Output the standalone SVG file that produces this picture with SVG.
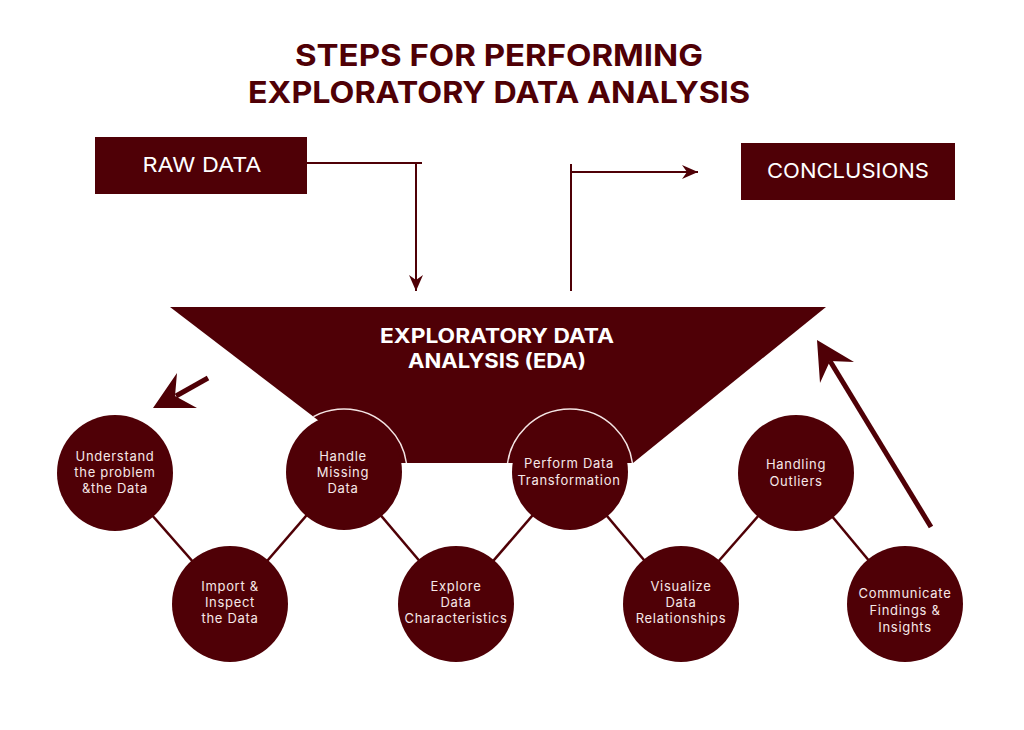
<svg xmlns="http://www.w3.org/2000/svg" width="1024" height="730" viewBox="0 0 1024 730">
  <defs>
    <style>
      .title{font-family:Inter,"Open Sans","DejaVu Sans",sans-serif;font-weight:700;font-size:30px;fill:#4f0006;text-anchor:middle}
      .box{fill:#4f0006}
      .boxlbl{font-family:Inter,"Open Sans","DejaVu Sans",sans-serif;font-size:20px;fill:#ffffff;text-anchor:middle}
      .eda{font-family:Inter,"Open Sans","DejaVu Sans",sans-serif;font-weight:700;font-size:19.5px;fill:#ffffff;text-anchor:middle}
      .node{fill:#4f0006}
      .lbl{font-family:Inter,"Open Sans","DejaVu Sans",sans-serif;font-size:13px;letter-spacing:0.7px;fill:#f6e8e8;text-anchor:middle}
      .conn{stroke:#4f0006;stroke-width:2.5;fill:none}
      .flow{stroke:#4f0006;stroke-width:2;fill:none}
      .big{stroke:#4f0006;stroke-width:5;fill:none}
      .ring{fill:none;stroke:#f3e3e3;stroke-width:1.5}
    </style>
    <marker id="ah" viewBox="0 0 16 14" refX="16" refY="7" markerWidth="16" markerHeight="14" markerUnits="userSpaceOnUse" orient="auto">
      <path d="M0,0 L16,7 L0,14 L5,7 z" fill="#4f0006"/>
    </marker>
    <clipPath id="trap">
      <polygon points="170,307 826,307 633,463 374,463"/>
    </clipPath>
  </defs>
  <rect width="1024" height="730" fill="#ffffff"/>

  <g id="title">
    <text class="title" x="499" y="66" textLength="408" lengthAdjust="spacingAndGlyphs">STEPS FOR PERFORMING</text>
    <text class="title" x="499" y="103" textLength="502" lengthAdjust="spacingAndGlyphs">EXPLORATORY DATA ANALYSIS</text>
  </g>

  <g id="raw-data">
    <rect class="box" x="95" y="137" width="212" height="57"/>
    <text class="boxlbl" x="202" y="172" textLength="119" lengthAdjust="spacingAndGlyphs">RAW DATA</text>
  </g>

  <g id="conclusions">
    <rect class="box" x="741" y="143" width="214" height="57"/>
    <text class="boxlbl" x="848" y="178" textLength="162" lengthAdjust="spacingAndGlyphs">CONCLUSIONS</text>
  </g>

  <g id="eda">
    <polygon points="170,307 826,307 633,463 374,463" fill="#4f0006"/>
    <g clip-path="url(#trap)">
      <circle class="ring" cx="344" cy="472" r="63"/>
      <circle class="ring" cx="570" cy="472" r="63"/>
    </g>
    <text class="eda" x="497" y="343" textLength="234" lengthAdjust="spacingAndGlyphs">EXPLORATORY DATA</text>
    <text class="eda" x="497" y="368" textLength="178" lengthAdjust="spacingAndGlyphs">ANALYSIS (EDA)</text>
  </g>

  <g id="connectors">
    <polyline class="flow" points="307,163 422,163"/>
    <line class="flow" x1="416" y1="163" x2="416" y2="291" marker-end="url(#ah)"/>
    <line class="flow" x1="571" y1="291" x2="571" y2="164"/>
    <line class="flow" x1="571" y1="172" x2="698" y2="172" marker-end="url(#ah)"/>
    <line class="conn" x1="115" y1="473" x2="230" y2="604"/>
    <line class="conn" x1="230" y1="604" x2="344" y2="472"/>
    <line class="conn" x1="344" y1="472" x2="456" y2="604"/>
    <line class="conn" x1="456" y1="604" x2="570" y2="472"/>
    <line class="conn" x1="570" y1="472" x2="681" y2="604"/>
    <line class="conn" x1="681" y1="604" x2="796" y2="473"/>
    <line class="conn" x1="796" y1="473" x2="905" y2="604"/>
    <line class="big" x1="208" y1="378" x2="176" y2="396"/>
    <polygon points="153,408 177,373 175,396 197,408" fill="#4f0006"/>
    <line class="big" x1="931" y1="527" x2="830" y2="361"/>
    <polygon points="817,340 854,362 830,361 820,383" fill="#4f0006"/>
  </g>

  <g id="n1">
    <circle class="node" cx="115" cy="473" r="58"/>
    <text class="lbl" x="115" y="461">Understand</text>
    <text class="lbl" x="115" y="477">the problem</text>
    <text class="lbl" x="115" y="493">&amp;the Data</text>
  </g>
  <g id="n2">
    <circle class="node" cx="230" cy="604" r="58"/>
    <text class="lbl" x="230" y="591">Import &amp;</text>
    <text class="lbl" x="230" y="607">Inspect</text>
    <text class="lbl" x="230" y="623">the Data</text>
  </g>
  <g id="n3">
    <circle class="node" cx="344" cy="472" r="58"/>
    <text class="lbl" x="343" y="461">Handle</text>
    <text class="lbl" x="343" y="477">Missing</text>
    <text class="lbl" x="343" y="493">Data</text>
  </g>
  <g id="n4">
    <circle class="node" cx="456" cy="604" r="58"/>
    <text class="lbl" x="456" y="591">Explore</text>
    <text class="lbl" x="456" y="607">Data</text>
    <text class="lbl" x="456" y="623">Characteristics</text>
  </g>
  <g id="n5">
    <circle class="node" cx="570" cy="472" r="58"/>
    <text class="lbl" x="569" y="468">Perform Data</text>
    <text class="lbl" x="569" y="485">Transformation</text>
  </g>
  <g id="n6">
    <circle class="node" cx="681" cy="604" r="58"/>
    <text class="lbl" x="681" y="591">Visualize</text>
    <text class="lbl" x="681" y="607">Data</text>
    <text class="lbl" x="681" y="623">Relationships</text>
  </g>
  <g id="n7">
    <circle class="node" cx="796" cy="473" r="58"/>
    <text class="lbl" x="796" y="469">Handling</text>
    <text class="lbl" x="796" y="486">Outliers</text>
  </g>
  <g id="n8">
    <circle class="node" cx="905" cy="604" r="58"/>
    <text class="lbl" x="905" y="598">Communicate</text>
    <text class="lbl" x="905" y="615">Findings &amp;</text>
    <text class="lbl" x="905" y="632">Insights</text>
  </g>
</svg>
